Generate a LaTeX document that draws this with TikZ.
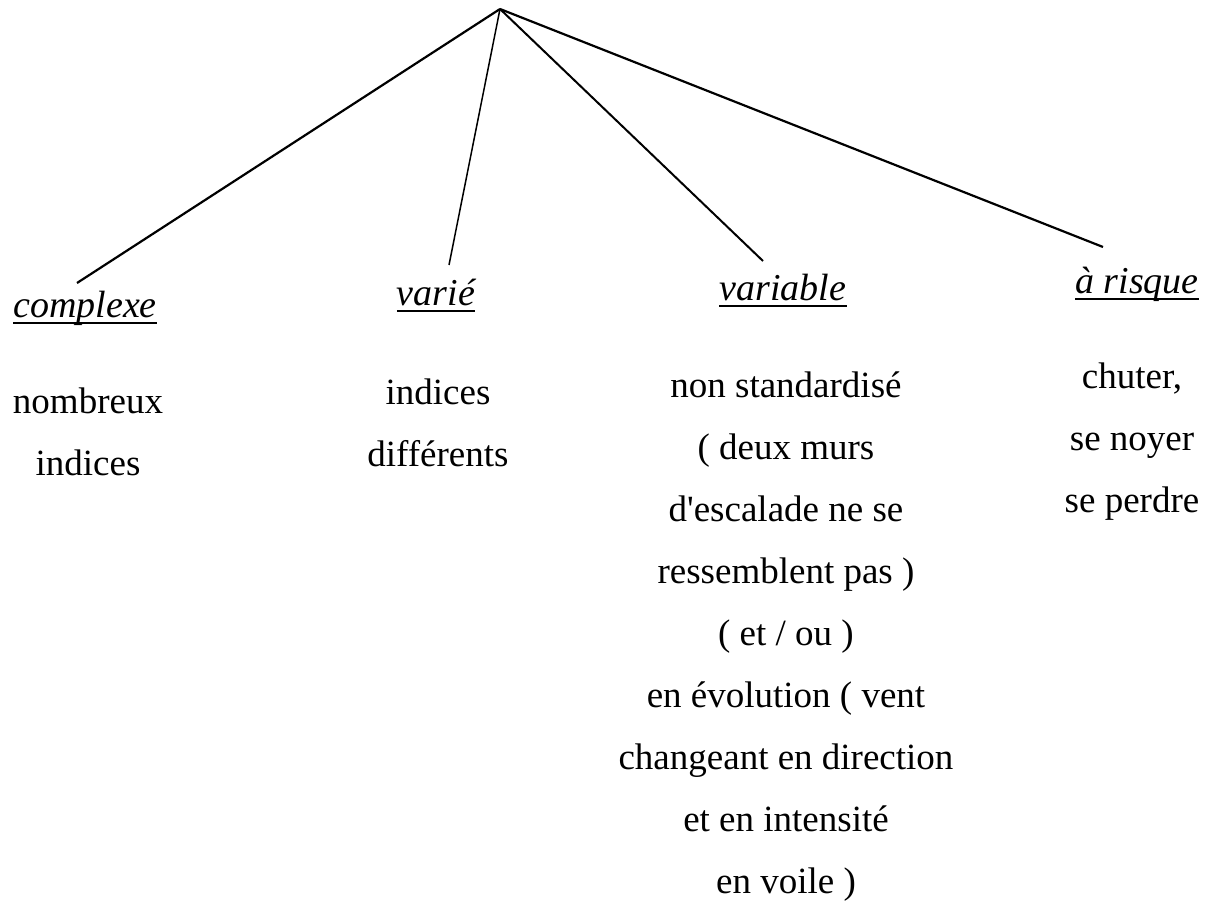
\documentclass[tikz,border=0pt]{standalone}
\usepackage{fontspec}
\setmainfont{Liberation Serif}
\usepackage{tikz}
\usetikzlibrary{positioning, calc}

\begin{document}
\begin{tikzpicture}[x=1pt, y=-1pt]
    \tikzstyle{titre} = [inner sep=0pt, anchor=base, font=\fontsize{38}{62}\selectfont\itshape]
    \tikzstyle{liste} = [inner sep=0pt, anchor=base, align=center, font=\fontsize{37}{62}\selectfont]
    \tikzstyle{branche} = [line width=2.2pt, black]
    \tikzstyle{souligne} = [line width=2.4pt, black]

    \clip (0,0) rectangle (1212,912);

    % sommet et extremites des branches
    \coordinate (sommet) at (500,9);
    \coordinate (b1) at (77,283);
    \coordinate (b2) at (449,265);
    \coordinate (b3) at (763,261);
    \coordinate (b4) at (1103,247);

    \draw[branche] (sommet) -- (b1);
    \draw[branche, line width=1.5pt] (sommet) -- (b2);
    \draw[branche, line width=2pt] (sommet) -- (b3);
    \draw[branche] (sommet) -- (b4);

    % titres
    \node[titre] (complexe) at (85,317) {complexe};
    \node[titre] (varie) at (436,305) {varié};
    \node[titre] (variable) at (783,300) {variable};
    \node[titre, anchor=base west] (risque) at (1075,293) {à risque};

    \foreach \t in {complexe, varie, variable, risque}
        \draw[souligne] ([yshift=-6pt]\t.base west) -- ([yshift=-6pt]\t.base east);

    % textes (ancre base = derniere ligne)
    \node[liste] (l1) at (88,475) {nombreux\\indices};
    \node[liste] (l2) at (438,466) {indices\\différents};
    \node[liste] (l3) at (786,893) {non standardisé\\( deux murs\\d\textquotesingle escalade ne se\\ressemblent pas )\\( et / ou )\\en évolution ( vent\\changeant en direction\\et en intensité\\en voile )};
    \node[liste] (l4) at (1132,512) {chuter,\\se noyer\\se perdre};
\end{tikzpicture}
\end{document}
